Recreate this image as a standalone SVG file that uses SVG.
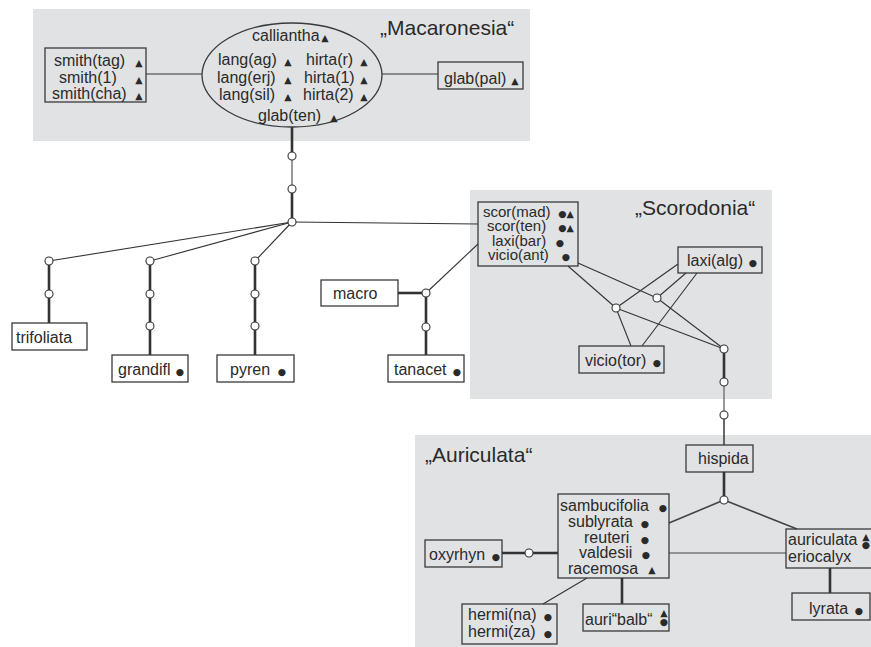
<svg xmlns="http://www.w3.org/2000/svg" width="871" height="647" viewBox="0 0 871 647">
<style>
text{font-family:"Liberation Sans",Arial,sans-serif;font-size:16px;fill:#2a2a2a}
.title{font-size:21px}
.sym{font-family:"DejaVu Sans",sans-serif;font-size:9.5px;text-anchor:middle}
.dot{font-family:"DejaVu Sans",sans-serif;font-size:9.5px;text-anchor:middle}
.sm{font-size:15px}
.panel{fill:#e1e2e4}
.box{fill:none;stroke:#3a3a3a;stroke-width:1.3}
.c{fill:#fff;stroke:#333;stroke-width:1.1}
.thin{stroke:#333;stroke-width:1.1;fill:none}
.thick{stroke:#333;stroke-width:2.6;fill:none}
.mid{stroke:#777;stroke-width:1.5;fill:none}
.md{stroke:#444;stroke-width:1.6;fill:none}
</style>
<rect width="871" height="647" fill="#fff"/>
<g id="panels">
<rect class="panel" x="33" y="9" width="497" height="132"/>
<rect class="panel" x="470" y="190" width="302" height="209"/>
<rect class="panel" x="415" y="435" width="456" height="212"/>
<text class="title" x="380" y="35">„Macaronesia“</text>
<text class="title" x="635" y="215">„Scorodonia“</text>
<text class="title" x="425" y="462">„Auriculata“</text>
</g>
<g id="connectors">
<line class="thin" x1="146" y1="74" x2="202" y2="74"/>
<line class="thin" x1="382" y1="74" x2="438" y2="74"/>
<line class="thick" x1="292" y1="127" x2="292" y2="156"/>
<line class="mid" x1="292" y1="156" x2="292" y2="189"/>
<line class="thick" x1="292" y1="189" x2="292" y2="222"/>
<line class="thin" x1="292" y1="222" x2="478" y2="224"/>
<line class="thin" x1="292" y1="222" x2="49" y2="261"/>
<line class="thin" x1="292" y1="222" x2="150" y2="261"/>
<line class="thin" x1="292" y1="222" x2="255" y2="261"/>
<line class="thick" x1="49" y1="261" x2="49" y2="323"/>
<line class="thick" x1="150" y1="261" x2="150" y2="355"/>
<line class="thick" x1="255" y1="261" x2="255" y2="355"/>
<line class="thick" x1="398" y1="293" x2="426" y2="293"/>
<line class="thick" x1="426" y1="293" x2="426" y2="355"/>
<line class="thin" x1="426" y1="293" x2="478" y2="244"/>
<line class="thin" x1="568" y1="266" x2="616" y2="308"/>
<line class="thin" x1="578" y1="263" x2="657" y2="298"/>
<line class="thin" x1="657" y1="298" x2="724" y2="349"/>
<line class="thin" x1="616" y1="308" x2="724" y2="349"/>
<line class="thin" x1="616" y1="308" x2="678" y2="264"/>
<line class="thin" x1="657" y1="298" x2="686" y2="273"/>
<line class="thin" x1="616" y1="308" x2="631" y2="346"/>
<line class="thin" x1="697" y1="273" x2="642" y2="346"/>
<line class="thick" x1="724" y1="349" x2="724" y2="382"/>
<line class="mid" x1="724" y1="382" x2="724" y2="415"/>
<line class="md" x1="724" y1="415" x2="724" y2="445"/>
<line class="thick" x1="724" y1="472" x2="724" y2="496"/>
<line class="md" x1="724" y1="500" x2="669" y2="523"/>
<line class="md" x1="724" y1="500" x2="797" y2="529"/>
<line class="mid" x1="669" y1="553" x2="786" y2="553"/>
<line class="thick" x1="502" y1="553" x2="558" y2="553"/>
<line class="thin" x1="587" y1="578" x2="543" y2="604"/>
<line class="thick" x1="622" y1="578" x2="622" y2="604"/>
<line class="thick" x1="830" y1="568" x2="830" y2="593"/>
</g>
<g id="junctions">
<circle class="c" cx="292" cy="156" r="4"/>
<circle class="c" cx="292" cy="189" r="4"/>
<circle class="c" cx="292" cy="222" r="4"/>
<circle class="c" cx="49" cy="261" r="4"/>
<circle class="c" cx="49" cy="294" r="4"/>
<circle class="c" cx="150" cy="261" r="4"/>
<circle class="c" cx="150" cy="294" r="4"/>
<circle class="c" cx="150" cy="326" r="4"/>
<circle class="c" cx="255" cy="261" r="4"/>
<circle class="c" cx="255" cy="294" r="4"/>
<circle class="c" cx="255" cy="326" r="4"/>
<circle class="c" cx="426" cy="293" r="4"/>
<circle class="c" cx="426" cy="327" r="4"/>
<circle class="c" cx="616" cy="308" r="4"/>
<circle class="c" cx="657" cy="298" r="4"/>
<circle class="c" cx="724" cy="349" r="4"/>
<circle class="c" cx="724" cy="382" r="4"/>
<circle class="c" cx="724" cy="415" r="4"/>
<circle class="c" cx="724" cy="500" r="4"/>
<circle class="c" cx="529" cy="553" r="4"/>
</g>
<g id="smith">
<rect class="box" x="45" y="48" width="101" height="54"/>
<text x="54" y="66">smith(tag)</text>
<text x="59" y="83">smith(1)</text>
<text x="52" y="99">smith(cha)</text>
<text class="sym" x="139" y="66">▲</text>
<text class="sym" x="139" y="83">▲</text>
<text class="sym" x="139" y="99">▲</text>
</g>
<g id="macaronesia-core">
<ellipse class="box" cx="292" cy="75" rx="90" ry="52"/>
<text x="252" y="41">calliantha</text>
<text class="sym" x="325" y="41">▲</text>
<text x="218" y="65">lang(ag)</text>
<text class="sym" x="288" y="65">▲</text>
<text x="217" y="83">lang(erj)</text>
<text class="sym" x="288" y="83">▲</text>
<text x="219" y="100">lang(sil)</text>
<text class="sym" x="288" y="100">▲</text>
<text x="306" y="65">hirta(r)</text>
<text class="sym" x="364" y="65">▲</text>
<text x="304" y="83">hirta(1)</text>
<text class="sym" x="364" y="83">▲</text>
<text x="303" y="100">hirta(2)</text>
<text class="sym" x="364" y="100">▲</text>
<text x="258" y="121">glab(ten)</text>
<text class="sym" x="334" y="121">▲</text>
</g>
<g id="glab-pal">
<rect class="box" x="438" y="62" width="85" height="27"/>
<text x="444" y="84">glab(pal)</text>
<text class="sym" x="515" y="84">▲</text>
</g>
<g id="trifoliata">
<rect class="box" x="12" y="323" width="75" height="27"/>
<text x="16" y="343">trifoliata</text>
</g>
<g id="grandifl">
<rect class="box" x="112" y="355" width="76" height="27"/>
<text x="118" y="375">grandifl</text>
<text class="dot" x="180" y="375">●</text>
</g>
<g id="pyren">
<rect class="box" x="217" y="355" width="77" height="27"/>
<text x="230" y="375">pyren</text>
<text class="dot" x="282" y="375">●</text>
</g>
<g id="macro">
<rect class="box" x="321" y="280" width="77" height="26"/>
<text x="333" y="299">macro</text>
</g>
<g id="tanacet">
<rect class="box" x="388" y="355" width="76" height="27"/>
<text x="394" y="375">tanacet</text>
<text class="dot" x="457" y="375">●</text>
</g>
<g id="scor">
<rect class="box" x="478" y="202" width="100" height="64"/>
<text class="sm" x="483" y="217">scor(mad)</text>
<text class="dot" x="566" y="217">●<tspan class="sym" dx="0">▲</tspan></text>
<text class="sm" x="487" y="231">scor(ten)</text>
<text class="dot" x="566" y="231">●<tspan class="sym" dx="0">▲</tspan></text>
<text class="sm" x="492" y="246">laxi(bar)</text>
<text class="dot" x="560" y="246">●</text>
<text class="sm" x="488" y="260">vicio(ant)</text>
<text class="dot" x="566" y="260">●</text>
</g>
<g id="laxi-alg">
<rect class="box" x="678" y="247" width="84" height="26"/>
<text x="687" y="266">laxi(alg)</text>
<text class="dot" x="753" y="266">●</text>
</g>
<g id="vicio-tor">
<rect class="box" x="579" y="346" width="85" height="27"/>
<text x="585" y="366">vicio(tor)</text>
<text class="dot" x="657" y="366">●</text>
</g>
<g id="hispida">
<rect class="box" x="686" y="445" width="67" height="27"/>
<text x="698" y="464">hispida</text>
</g>
<g id="sambucifolia">
<rect class="box" x="558" y="494" width="111" height="84"/>
<text x="560" y="511">sambucifolia</text>
<text class="dot" x="663" y="511">●</text>
<text x="568" y="527">sublyrata</text>
<text class="dot" x="645" y="527">●</text>
<text x="584" y="543">reuteri</text>
<text class="dot" x="645" y="543">●</text>
<text x="579" y="558">valdesii</text>
<text class="dot" x="646" y="558">●</text>
<text x="568" y="574">racemosa</text>
<text class="sym" x="652" y="573">▲</text>
</g>
<g id="auriculata">
<rect class="box" x="786" y="529" width="90" height="39"/>
<text x="788" y="545">auriculata</text>
<text x="788" y="562">eriocalyx</text>
<text class="sym" x="866" y="540">▲<tspan class="dot" x="866" dy="8">●</tspan></text>
</g>
<g id="lyrata">
<rect class="box" x="792" y="593" width="78" height="27"/>
<text x="809" y="614">lyrata</text>
<text class="dot" x="859" y="614">●</text>
</g>
<g id="oxyrhyn">
<rect class="box" x="425" y="540" width="77" height="27"/>
<text x="429" y="560">oxyrhyn</text>
<text class="dot" x="496" y="560">●</text>
</g>
<g id="hermi">
<rect class="box" x="462" y="604" width="95" height="40"/>
<text x="468" y="620">hermi(na)</text>
<text class="dot" x="548" y="620">●</text>
<text x="468" y="637">hermi(za)</text>
<text class="dot" x="548" y="637">●</text>
</g>
<g id="auri-balb">
<rect class="box" x="583" y="604" width="86" height="27"/>
<text x="585" y="625">auri“balb“</text>
<text class="sym" x="664" y="616">▲<tspan class="dot" x="664" dy="9">●</tspan></text>
</g>
</svg>
